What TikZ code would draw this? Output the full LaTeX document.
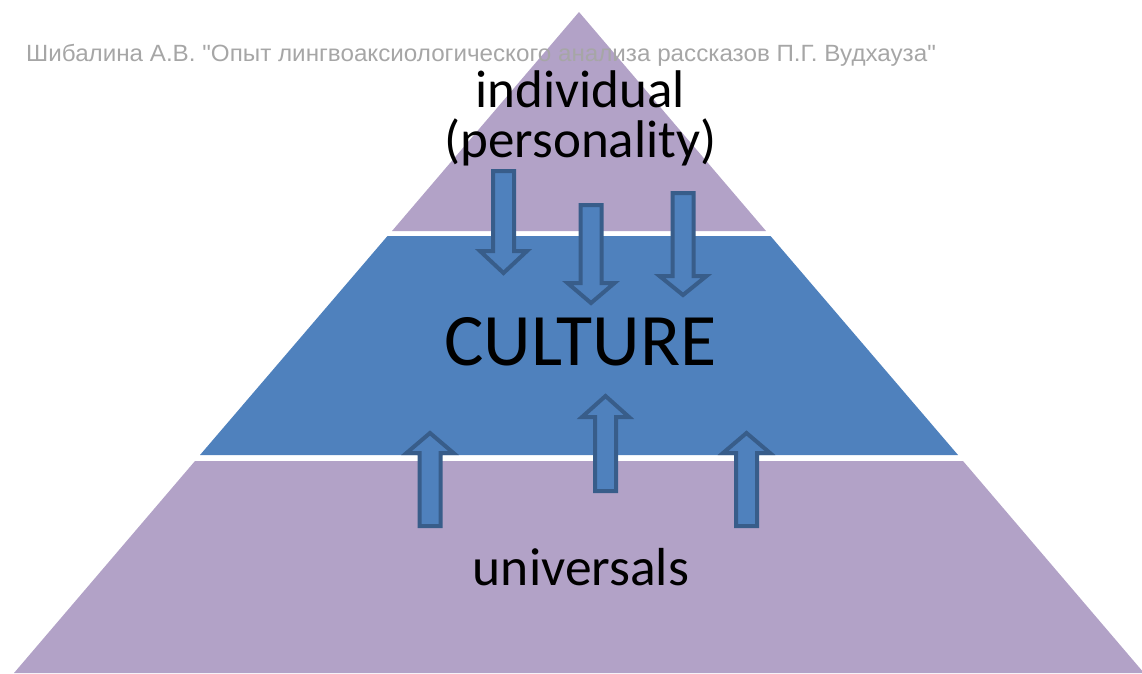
\documentclass[tikz,border=0pt]{standalone}
\usepackage{fontspec}
\setmainfont{Carlito}
\newfontfamily\notefont{Liberation Sans}
\definecolor{layerlilac}{HTML}{B2A2C7}
\definecolor{layerblue}{HTML}{4F81BD}
\definecolor{arrowrim}{HTML}{385D8A}
\definecolor{notegray}{HTML}{A6A6A6}
\tikzset{
  blockarrow/.style={fill=layerblue,draw=arrowrim,line width=4pt,line join=miter},
  label/.style={inner sep=0pt,text=black}
}
% block arrow: centre x, tail y, neck y, tip y
\newcommand\blockarr[4]{%
  \draw[blockarrow] (#1-10.5,#2) -- (#1-10.5,#3) -- (#1-23.5,#3) -- (#1,#4)
    -- (#1+23.5,#3) -- (#1+10.5,#3) -- (#1+10.5,#2) -- cycle;}

\begin{document}
\begin{tikzpicture}[x=1pt,y=-1pt]
        \useasboundingbox (0,0) rectangle (1142,673);
        % the three layers
        \fill[layerlilac] (579,12) -- (766,231) -- (392,231) -- cycle;
        \fill[layerblue] (387.5,236) -- (770.5,236) -- (958,455) -- (200,455) -- cycle;
        \fill[layerlilac] (195,461) -- (963,461) -- (1144,673) -- (14,673) -- cycle;
        % arrows into the middle
        \blockarr{503.5}{171}{251}{273}
        \blockarr{591}{205}{283}{303}
        \blockarr{683}{193}{276}{295}
        \blockarr{430}{526}{453}{433}
        \blockarr{605.5}{491}{417}{396}
        \blockarr{746.5}{526}{453}{433}
        % texts
        \node[label,font=\fontsize{53}{50}\selectfont,align=center,anchor=base]
          (indiv) at (580.5,157) {individual\\(personality)};
        \node[label,font=\fontsize{74}{74}\selectfont,anchor=base] (culture) at (580.5,365) {CULTURE};
        \node[label,font=\fontsize{53.5}{54}\selectfont,anchor=base] (univ) at (581,585) {universals};
        \node[inner sep=0pt,anchor=base west,text=notegray,font=\notefont\fontsize{23.5}{24}\selectfont,xscale=1.03]
          (source) at (26,61) {Шибалина А.В. "Опыт лингвоаксиологического анализа рассказов П.Г. Вудхауза"};
\end{tikzpicture}
\end{document}
